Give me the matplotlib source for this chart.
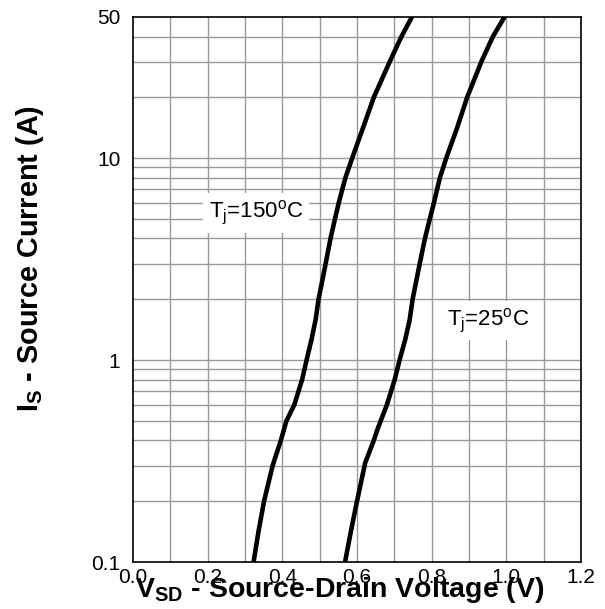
import numpy as np
import matplotlib.pyplot as plt
from matplotlib.ticker import FixedLocator, NullFormatter

plt.rcParams['font.family'] = ['Liberation Sans', 'DejaVu Sans']
plt.rcParams['mathtext.fontset'] = 'custom'
plt.rcParams['mathtext.rm'] = 'Liberation Sans'
plt.rcParams['mathtext.bf'] = 'Liberation Sans:bold'

# (V_SD in V, I_S in A)
v_150 = [0.323, 0.336, 0.351, 0.374, 0.396, 0.411, 0.432, 0.453, 0.465, 0.478,
         0.489, 0.497, 0.516, 0.529, 0.541, 0.551, 0.569, 0.587, 0.616, 0.645,
         0.6875, 0.719, 0.747]
i_150 = [0.1, 0.141, 0.2, 0.3, 0.4, 0.5, 0.6, 0.8, 1.0, 1.26,
         1.58, 2.0, 3.0, 4.0, 5.0, 6.0, 8.0, 10.0, 14.1, 20.0,
         30.0, 40.0, 50.0]

v_25 = [0.568, 0.583, 0.600, 0.622, 0.645, 0.656, 0.680, 0.701, 0.714, 0.729,
        0.741, 0.749, 0.768, 0.782, 0.795, 0.806, 0.822, 0.839, 0.868, 0.895,
        0.933, 0.964, 0.995]
i_25 = [0.1, 0.14, 0.2, 0.31, 0.4, 0.46, 0.6, 0.8, 1.0, 1.26,
        1.58, 2.0, 3.0, 4.0, 5.0, 6.0, 8.0, 10.0, 14.1, 20.0,
        30.0, 40.0, 50.0]

x_ticks = [0.0, 0.2, 0.4, 0.6, 0.8, 1.0, 1.2]
x_labels = ['0.0', '0.2', '0.4', '0.6', '0.8', '1.0', '1.2']
y_ticks = [0.1, 1, 10, 50]
y_labels = ['0.1', '1', '10', '50']

fig = plt.figure(figsize=(6.05, 6.09), dpi=100)
ax = fig.add_axes([133 / 605, 1 - 562 / 609, (581 - 133) / 605, (562 - 17) / 609])

ax.set_yscale('log')
ax.set_xlim(0, 1.2)
ax.set_ylim(0.1, 50)

# grid
x_grid = np.arange(0.1, 1.2, 0.1)
y_grid = [0.2, 0.3, 0.4, 0.5, 0.6, 0.7, 0.8, 0.9, 1, 2, 3, 4, 5, 6, 7, 8, 9, 10, 20, 30, 40]
for xv in x_grid:
    ax.axvline(xv, color='#9a9a9a', lw=1.0, zorder=1)
for yv in y_grid:
    ax.axhline(yv, color='#9a9a9a', lw=1.0, zorder=1)

ax.plot(v_150, i_150, color='black', lw=3.3, solid_joinstyle='round', zorder=3)
ax.plot(v_25, i_25, color='black', lw=3.3, solid_joinstyle='round', zorder=3)

ax.set_xticks(x_ticks)
ax.set_xticklabels(x_labels)
ax.yaxis.set_major_locator(FixedLocator(y_ticks))
ax.yaxis.set_minor_locator(FixedLocator([]))
ax.yaxis.set_minor_formatter(NullFormatter())
ax.set_yticklabels(y_labels)
ax.tick_params(axis='both', length=0, labelsize=15)
ax.tick_params(axis='y', pad=9)
ax.tick_params(axis='x', pad=4)
for s in ax.spines.values():
    s.set_linewidth(1.2)

box = dict(facecolor='white', edgecolor='none', pad=4)
ax.text(0.329, 5.35, r'T$_\mathrm{j}$=150$^\mathrm{o}$C', fontsize=16,
        ha='center', va='center', bbox=box, zorder=4)
ax.text(0.95, 1.57, r'T$_\mathrm{j}$=25$^\mathrm{o}$C', fontsize=16,
        ha='center', va='center', bbox=box, zorder=4)

fig.text(30 / 605, 1 - 258 / 609, r'$\mathbf{I_S}$ - Source Current (A)', rotation=90,
         fontsize=20.8, fontweight='bold', ha='center', va='center')
fig.text(340 / 605, 1 - 590 / 609, r'$\mathbf{V_{SD}}$ - Source-Drain Voltage (V)',
         fontsize=20.5, fontweight='bold', ha='center', va='center')

fig.savefig('out.png', dpi=100)
